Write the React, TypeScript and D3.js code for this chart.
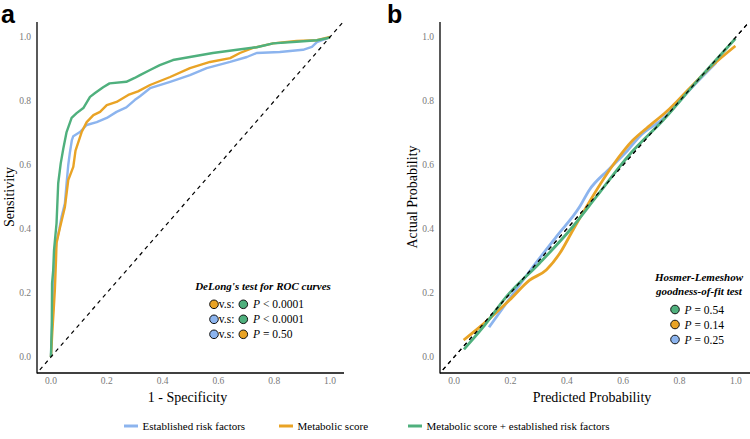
import React from "react";
import * as d3 from "d3";

const seriesNames = ["Established risk factors", "Metabolic score", "Metabolic score + established risk factors"];
const seriesColors = ["#8cb4ee", "#e9a325", "#4fb07d"];
const tickValues = [0, 0.2, 0.4, 0.6, 0.8, 1.0];

// ROC curves: [1 - specificity, sensitivity]
const rocEstablished: [number, number][] = [
  [0, 0], [0.004, 0.1], [0.008, 0.2], [0.01, 0.25], [0.012, 0.3], [0.02, 0.36], [0.03, 0.4], [0.038, 0.438],
  [0.05, 0.48], [0.056, 0.543], [0.062, 0.6], [0.068, 0.64], [0.075, 0.678], [0.08, 0.69], [0.104, 0.703],
  [0.128, 0.725], [0.164, 0.734], [0.2, 0.747], [0.235, 0.766], [0.27, 0.78], [0.3, 0.803], [0.319, 0.815],
  [0.355, 0.84], [0.427, 0.86], [0.498, 0.881], [0.558, 0.903], [0.642, 0.922], [0.702, 0.9375], [0.737, 0.95],
  [0.82, 0.953], [0.903, 0.96], [0.935, 0.969], [0.953, 0.984], [0.993, 0.997], [1, 1],
];
const rocMetabolic: [number, number][] = [
  [0, 0], [0.005, 0.08], [0.01, 0.15], [0.014, 0.21], [0.018, 0.3], [0.02, 0.356], [0.032, 0.403], [0.05, 0.469],
  [0.062, 0.553], [0.08, 0.594], [0.088, 0.645], [0.11, 0.703], [0.128, 0.734], [0.152, 0.756], [0.176, 0.766],
  [0.2, 0.787], [0.235, 0.797], [0.277, 0.819], [0.312, 0.83], [0.355, 0.85], [0.427, 0.875], [0.498, 0.903],
  [0.57, 0.922], [0.642, 0.934], [0.677, 0.95], [0.724, 0.966], [0.796, 0.98], [0.88, 0.988], [0.953, 0.99], [1, 1],
];
const rocCombined: [number, number][] = [
  [0, 0], [0.003, 0.1], [0.004, 0.23], [0.008, 0.27], [0.011, 0.334], [0.02, 0.418], [0.026, 0.543], [0.035, 0.605],
  [0.044, 0.65], [0.056, 0.703], [0.074, 0.747], [0.092, 0.762], [0.116, 0.778], [0.14, 0.813], [0.158, 0.825],
  [0.187, 0.843], [0.21, 0.855], [0.27, 0.86], [0.3, 0.872], [0.319, 0.881], [0.355, 0.897], [0.39, 0.912],
  [0.437, 0.928], [0.498, 0.9375], [0.58, 0.95], [0.667, 0.96], [0.737, 0.968], [0.796, 0.98], [0.88, 0.985],
  [0.953, 0.99], [0.993, 0.997], [1, 1],
];

// Calibration curves: [predicted, actual]
const calEstablished: [number, number][] = [
  [0.124, 0.093], [0.185, 0.168], [0.28, 0.282], [0.363, 0.376], [0.446, 0.47], [0.48, 0.522], [0.546, 0.584],
  [0.617, 0.647], [0.659, 0.69], [0.742, 0.745], [0.836, 0.835], [0.93, 0.92],
];
const calMetabolic: [number, number][] = [
  [0.034, 0.053], [0.126, 0.12], [0.197, 0.178], [0.268, 0.24], [0.327, 0.272], [0.375, 0.324], [0.422, 0.397],
  [0.47, 0.47], [0.564, 0.6], [0.635, 0.678], [0.683, 0.715], [0.754, 0.767], [0.836, 0.84], [0.919, 0.913],
  [0.998, 0.972],
];
const calCombined: [number, number][] = [
  [0.035, 0.024], [0.1, 0.09], [0.185, 0.188], [0.303, 0.293], [0.421, 0.407], [0.504, 0.5], [0.626, 0.636],
  [0.744, 0.742], [0.862, 0.862], [0.998, 0.995],
];

const delongRows = [
  { a: 1, b: 2, text: "< 0.0001" },
  { a: 0, b: 2, text: "< 0.0001" },
  { a: 0, b: 1, text: "= 0.50" },
];
const hlRows = [
  { c: 2, text: "= 0.54" },
  { c: 1, text: "= 0.14" },
  { c: 0, text: "= 0.25" },
];

const serif = "'Liberation Serif', 'Times New Roman', serif";
const sans = "'Liberation Sans', Arial, sans-serif";

function Panel({ x0, x1, label, xTitle, yTitle, series, step }: any) {
  const top = 21, bottom = 373;
  const x = d3.scaleLinear().domain([-0.05, 1.05]).range([x0, x1]);
  const y = d3.scaleLinear().domain([-0.05, 1.05]).range([bottom, top]);
  const line = d3.line<[number, number]>().x((d) => x(d[0])).y((d) => y(d[1]))
    .curve(step ? d3.curveLinear : d3.curveMonotoneX);
  const diag: [number, number][] = [[-0.04, -0.04], [1.045, 1.045]];
  return (
    <g>
      {tickValues.map((t) => (
        <text key={"y" + t} x={x0 - 6} y={y(t) + 3.3} textAnchor="end" fontSize={9.5} fill="#7a7a7a" fontFamily={serif}>
          {t.toFixed(1)}
        </text>
      ))}
      {tickValues.map((t) => (
        <text key={"x" + t} x={x(t)} y={384} textAnchor="middle" fontSize={9.5} fill="#7a7a7a" fontFamily={serif}>
          {t.toFixed(1)}
        </text>
      ))}
      {!step && <path d={line(diag) || ""} stroke="#000" strokeWidth={1.2} strokeDasharray="4,4" fill="none" />}
      {series.map((s: [number, number][], i: number) => (
        <path key={i} d={line(s) || ""} stroke={seriesColors[i]} strokeWidth={step ? 2.4 : 2.8} fill="none"
          strokeLinejoin="round" strokeLinecap="butt" />
      ))}
      {step && <path d={line(diag) || ""} stroke="#000" strokeWidth={1.2} strokeDasharray="4,4" fill="none" />}
      {!step && <path d={line(diag) || ""} stroke="#000" strokeWidth={1.2} strokeDasharray="4,4" fill="none" />}
      <line x1={x0} x2={x0} y1={top + 1} y2={bottom + 0.5} stroke="#000" strokeWidth={1.3} />
      <line x1={x0} x2={x1} y1={bottom} y2={bottom} stroke="#000" strokeWidth={1.3} />
      <text x={(x0 + x1) / 2 - 3} y={402} textAnchor="middle" fontSize={14} fontFamily={serif}>{xTitle}</text>
      <text transform={`translate(${x0 - 23},${(top + bottom) / 2}) rotate(-90)`} textAnchor="middle" fontSize={14}
        fontFamily={serif}>{yTitle}</text>
      <text x={label.x} y={23} fontSize={25} fontWeight="bold" fontFamily={sans}>{label.t}</text>
    </g>
  );
}

export default function App() {
  const legendItems = [
    { i: 0, x: 124 },
    { i: 1, x: 279 },
    { i: 2, x: 408 },
  ];
  return (
    <svg width={750} height={439} style={{ position: "absolute", left: 0, top: 0 }}>
      <rect width={750} height={439} fill="#fff" />
      <Panel x0={37} x1={344} label={{ x: 1, t: "a" }} xTitle="1 - Specificity" yTitle="Sensitivity"
        series={[rocEstablished, rocMetabolic, rocCombined]} step={true} />
      <Panel x0={440} x1={750} label={{ x: 387, t: "b" }} xTitle="Predicted Probability" yTitle="Actual Probability"
        series={[calEstablished, calMetabolic, calCombined]} step={false} />

      {/* DeLong legend */}
      <text x={263} y={290} textAnchor="middle" fontSize={11} fontWeight="bold" fontStyle="italic" fontFamily={serif}>
        DeLong's test for ROC curves
      </text>
      {delongRows.map((r, k) => {
        const cy = 304.3 + k * 15;
        return (
          <g key={k}>
            <circle cx={214} cy={cy} r={4.3} fill={seriesColors[r.a]} stroke="#111" strokeWidth={1} />
            <text x={218.8} y={cy + 4} fontSize={11.5} fontFamily={serif}>v.s:</text>
            <circle cx={243.3} cy={cy} r={4.3} fill={seriesColors[r.b]} stroke="#111" strokeWidth={1} />
            <text x={253} y={cy + 4} fontSize={11.5} fontFamily={serif}>
              <tspan fontStyle="italic">P</tspan> {r.text}
            </text>
          </g>
        );
      })}

      {/* Hosmer-Lemeshow legend */}
      <text x={699} y={281} textAnchor="middle" fontSize={11} fontWeight="bold" fontStyle="italic" fontFamily={serif}>
        Hosmer-Lemeshow
      </text>
      <text x={699} y={295} textAnchor="middle" fontSize={11} fontWeight="bold" fontStyle="italic" fontFamily={serif}>
        goodness-of-fit test
      </text>
      {hlRows.map((r, k) => {
        const cy = 309.5 + k * 15;
        return (
          <g key={k}>
            <circle cx={675} cy={cy} r={4.3} fill={seriesColors[r.c]} stroke="#111" strokeWidth={1} />
            <text x={684.5} y={cy + 4} fontSize={11.5} fontFamily={serif}>
              <tspan fontStyle="italic">P</tspan> {r.text}
            </text>
          </g>
        );
      })}

      {/* Bottom legend */}
      {legendItems.map((it) => (
        <g key={it.i}>
          <line x1={it.x} x2={it.x + 14} y1={426} y2={426} stroke={seriesColors[it.i]} strokeWidth={3} />
          <text x={it.x + 18.5} y={429.7} fontSize={11} fontFamily={serif}>{seriesNames[it.i]}</text>
        </g>
      ))}
    </svg>
  );
}
